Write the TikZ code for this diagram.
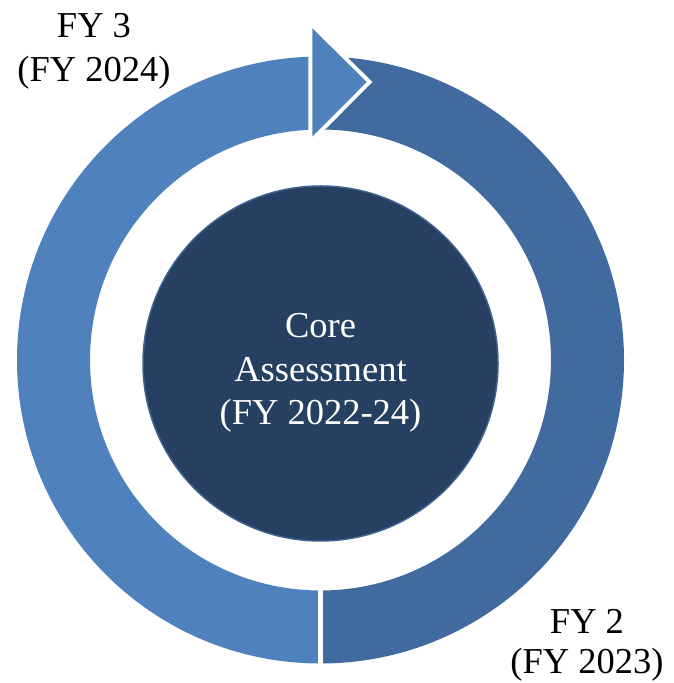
\documentclass[tikz,border=0pt]{standalone}
\usepackage{fontspec}
\setmainfont{Liberation Serif}
\definecolor{lightseg}{RGB}{79,129,189}
\definecolor{darkseg}{RGB}{65,107,158}
\definecolor{corefill}{RGB}{38,64,97}
\definecolor{coreedge}{RGB}{62,98,145}
\begin{document}
\begin{tikzpicture}[x=1bp,y=1bp,
  lbl/.style={font=\fontsize{36.5bp}{44bp}\selectfont, align=center, inner sep=0pt, anchor=base},
  gapline/.style={white, line width=4.4bp}]
\useasboundingbox (0,0) rectangle (674,683);
% left (light) half of the ring
\fill[lightseg] (320.5,626.5) arc[start angle=90,end angle=270,radius=303.5]
  -- (320.5,92.5) arc[start angle=270,end angle=90,radius=230.5] -- cycle;
% right (dark) half of the ring
\fill[darkseg] (320.5,626.5) arc[start angle=90,end angle=-90,radius=303.5]
  -- (320.5,92.5) arc[start angle=-90,end angle=90,radius=230.5] -- cycle;
% bottom gap
\draw[gapline] (320.5,10) -- (320.5,100);
% arrow head with white surround
\filldraw[white, line width=8bp, line join=miter] (312.3,654.7) -- (366.7,601) -- (312.3,546.3) -- cycle;
\fill[lightseg] (312.3,654.7) -- (366.7,601) -- (312.3,546.3) -- cycle;
% core circle
\node[circle, fill=corefill, draw=coreedge, line width=1.5bp, minimum size=355bp, inner sep=0pt] (core) at (320.5,319.5) {};
\node[lbl, text=white, font=\fontsize{36.5bp}{43.5bp}\selectfont] (coretext) at (320.5,258) {Core\\Assessment\\(FY 2022-24)};
% labels
\node[lbl] (fy3) at (94,601.3) {FY 3\\(FY 2024)};
\node[lbl, font=\fontsize{36.5bp}{40.5bp}\selectfont] (fy2) at (587,9) {FY 2\\(FY 2023)};
\end{tikzpicture}
\end{document}
